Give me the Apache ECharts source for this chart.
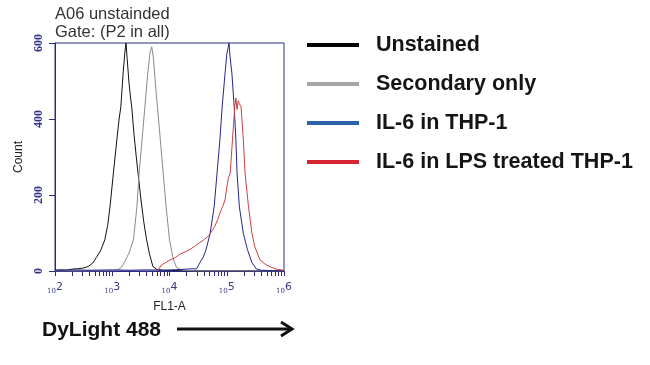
<!DOCTYPE html>
<html>
<head>
<meta charset="utf-8">
<script src="https://cdn.jsdelivr.net/npm/echarts@6/dist/echarts.min.js"></script>
<style>html,body{margin:0;padding:0;background:#fff;}#c{width:650px;height:365px;}</style>
</head>
<body>
<div id="c"></div>
<script>
// ---- data (FL1-A as decade exponents, counts) ----
const seriesNames = ['Unstained', 'Secondary only', 'IL-6 in THP-1', 'IL-6 in LPS treated THP-1'];
const legendColors = ['#000000', '#a6a6a6', '#2b63a8', '#d42530'];
const curveColors = ['#111111', '#8a8a8a', '#25258f', '#cc4040'];

const expUnstained = [2.00,2.10,2.20,2.30,2.40,2.50,2.58,2.66,2.72,2.80,2.87,2.92,2.96,3.02,3.08,3.12,3.15,3.19,3.22,3.24,3.26,3.29,3.32,3.34,3.38,3.42,3.45,3.50,3.55,3.60,3.65,3.71,3.78,3.90,4.10,4.40,5.00,6.00];
const cntUnstained = [2,3,2,5,6,8,12,21,35,55,82,120,168,258,345,400,432,521,575,600,560,500,455,432,360,300,258,190,130,82,45,12,4,2,1,0,0,0];

const expSecondary = [2.00,2.50,3.00,3.10,3.16,3.22,3.30,3.37,3.43,3.47,3.52,3.57,3.62,3.66,3.69,3.72,3.76,3.79,3.84,3.89,3.94,4.00,4.06,4.12,4.20,4.40,5.00,6.00];
const cntSecondary = [0,0,1,3,10,25,50,82,168,258,345,432,520,575,590,560,480,432,345,258,170,82,35,10,3,0,0,0];

const expTHP1 = [2.00,2.30,2.60,3.00,3.30,3.60,3.90,4.20,4.41,4.47,4.53,4.59,4.64,4.71,4.78,4.83,4.88,4.92,4.97,5.00,5.02,5.04,5.06,5.09,5.13,5.16,5.18,5.22,5.29,5.36,5.44,5.52,5.60,5.80,6.00];
const cntTHP1 = [2,3,2,3,2,3,2,4,6,5,22,37,57,99,169,257,345,432,520,570,585,600,560,520,432,345,257,169,99,57,22,5,2,1,0];

const expLPS = [3.80,3.86,3.93,4.01,4.10,4.18,4.27,4.36,4.45,4.53,4.60,4.68,4.74,4.79,4.84,4.88,4.93,4.97,5.00,5.03,5.06,5.10,5.14,5.16,5.18,5.20,5.22,5.25,5.29,5.32,5.38,5.44,5.49,5.58,5.67,5.76,5.86,6.00];
const cntLPS = [2,16,22,29,35,44,50,57,66,75,82,92,105,117,135,152,170,187,220,245,257,345,432,455,425,448,440,432,345,257,169,99,64,29,18,11,5,2];

const xLabelValues = [100, 1000, 10000, 100000, 1000000];
const xMinorTicks = [200,300,400,500,600,700,800,900,2000,3000,4000,5000,6000,7000,8000,9000,20000,30000,40000,50000,60000,70000,80000,90000,200000,300000,400000,500000,600000,700000,800000,900000];

function pairs(e, c) { return e.map((v, i) => [Math.pow(10, v), c[i]]); }
const allExp = [expUnstained, expSecondary, expTHP1, expLPS];
const allCnt = [cntUnstained, cntSecondary, cntTHP1, cntLPS];

const frame = '#2c2c84';
const chart = echarts.init(document.getElementById('c'));
chart.setOption({
  animation: false,
  backgroundColor: '#ffffff',
  grid: { left: 55, top: 43, width: 229, height: 228, show: true, borderColor: frame, borderWidth: 1, backgroundColor: 'transparent' },
  legend: {
    orient: 'vertical', left: 302, top: 29, itemGap: 17, itemWidth: 52, itemHeight: 4, icon: 'rect',
    textStyle: { fontFamily: 'Liberation Sans, Arial, sans-serif', fontSize: 21.5, fontWeight: 'bold', color: '#151515', padding: [0, 0, 0, 12] },
    data: seriesNames.map((n, i) => ({ name: n, itemStyle: { color: legendColors[i] } }))
  },
  xAxis: [{
    type: 'log', logBase: 10, min: 100, max: 1000000,
    axisLine: { show: true, lineStyle: { color: frame, width: 1 } },
    axisTick: { show: true, customValues: xLabelValues.concat(xMinorTicks), length: 5, inside: false, lineStyle: { color: frame } },
    splitLine: { show: false },
    axisLabel: {
      customValues: xLabelValues, margin: 11,
      formatter: v => '{b|10}{e|' + Math.round(Math.log10(v)) + '}',
      rich: {
        b: { fontSize: 7, color: '#3a3a8a', fontFamily: 'DejaVu Serif, serif', verticalAlign: 'bottom', padding: [6, 0, 0, 0] },
        e: { fontSize: 11, color: '#3a3a8a', fontFamily: 'DejaVu Sans, sans-serif', verticalAlign: 'top' }
      }
    },
    name: 'FL1-A', nameLocation: 'middle', nameGap: 30,
    nameTextStyle: { fontFamily: 'Liberation Sans, Arial, sans-serif', fontSize: 12, color: '#222' }
  }],
  yAxis: [{
    type: 'value', min: 0, max: 600, interval: 200,
    axisLine: { show: true, lineStyle: { color: frame, width: 1 } },
    axisTick: { show: true, length: 6, lineStyle: { color: frame } },
    splitLine: { show: false },
    axisLabel: { rotate: 90, margin: 10, fontSize: 12, fontWeight: 'bold', color: '#33338a', fontFamily: 'Liberation Serif, serif' },
    name: 'Count', nameLocation: 'middle', nameGap: 30, nameRotate: 90,
    nameTextStyle: { fontFamily: 'Liberation Sans, Arial, sans-serif', fontSize: 12, color: '#222' }
  }],
  series: seriesNames.map((n, i) => ({
    name: n, type: 'line', showSymbol: false, symbol: 'none', smooth: false,
    data: pairs(allExp[i], allCnt[i]),
    itemStyle: { color: legendColors[i] },
    lineStyle: { color: curveColors[i], width: 1 },
    z: 2 + i
  })),
  graphic: [
    { type: 'text', left: 55, top: 6, style: { text: 'A06 unstainded', font: '16.5px "Liberation Sans", Arial, sans-serif', fill: '#333' } },
    { type: 'text', left: 55, top: 24, style: { text: 'Gate: (P2 in all)', font: '16.5px "Liberation Sans", Arial, sans-serif', fill: '#333' } },
    { type: 'text', left: 42, top: 320, style: { text: 'DyLight 488', font: 'bold 21px "Liberation Sans", Arial, sans-serif', fill: '#111' } },
    { type: 'line', shape: { x1: 177, y1: 329, x2: 291, y2: 329 }, style: { stroke: '#111', lineWidth: 3 } },
    { type: 'polyline', shape: { points: [[281, 322], [292, 329], [281, 336]] }, style: { stroke: '#111', lineWidth: 3, fill: null } }
  ]
});
</script>
</body>
</html>
